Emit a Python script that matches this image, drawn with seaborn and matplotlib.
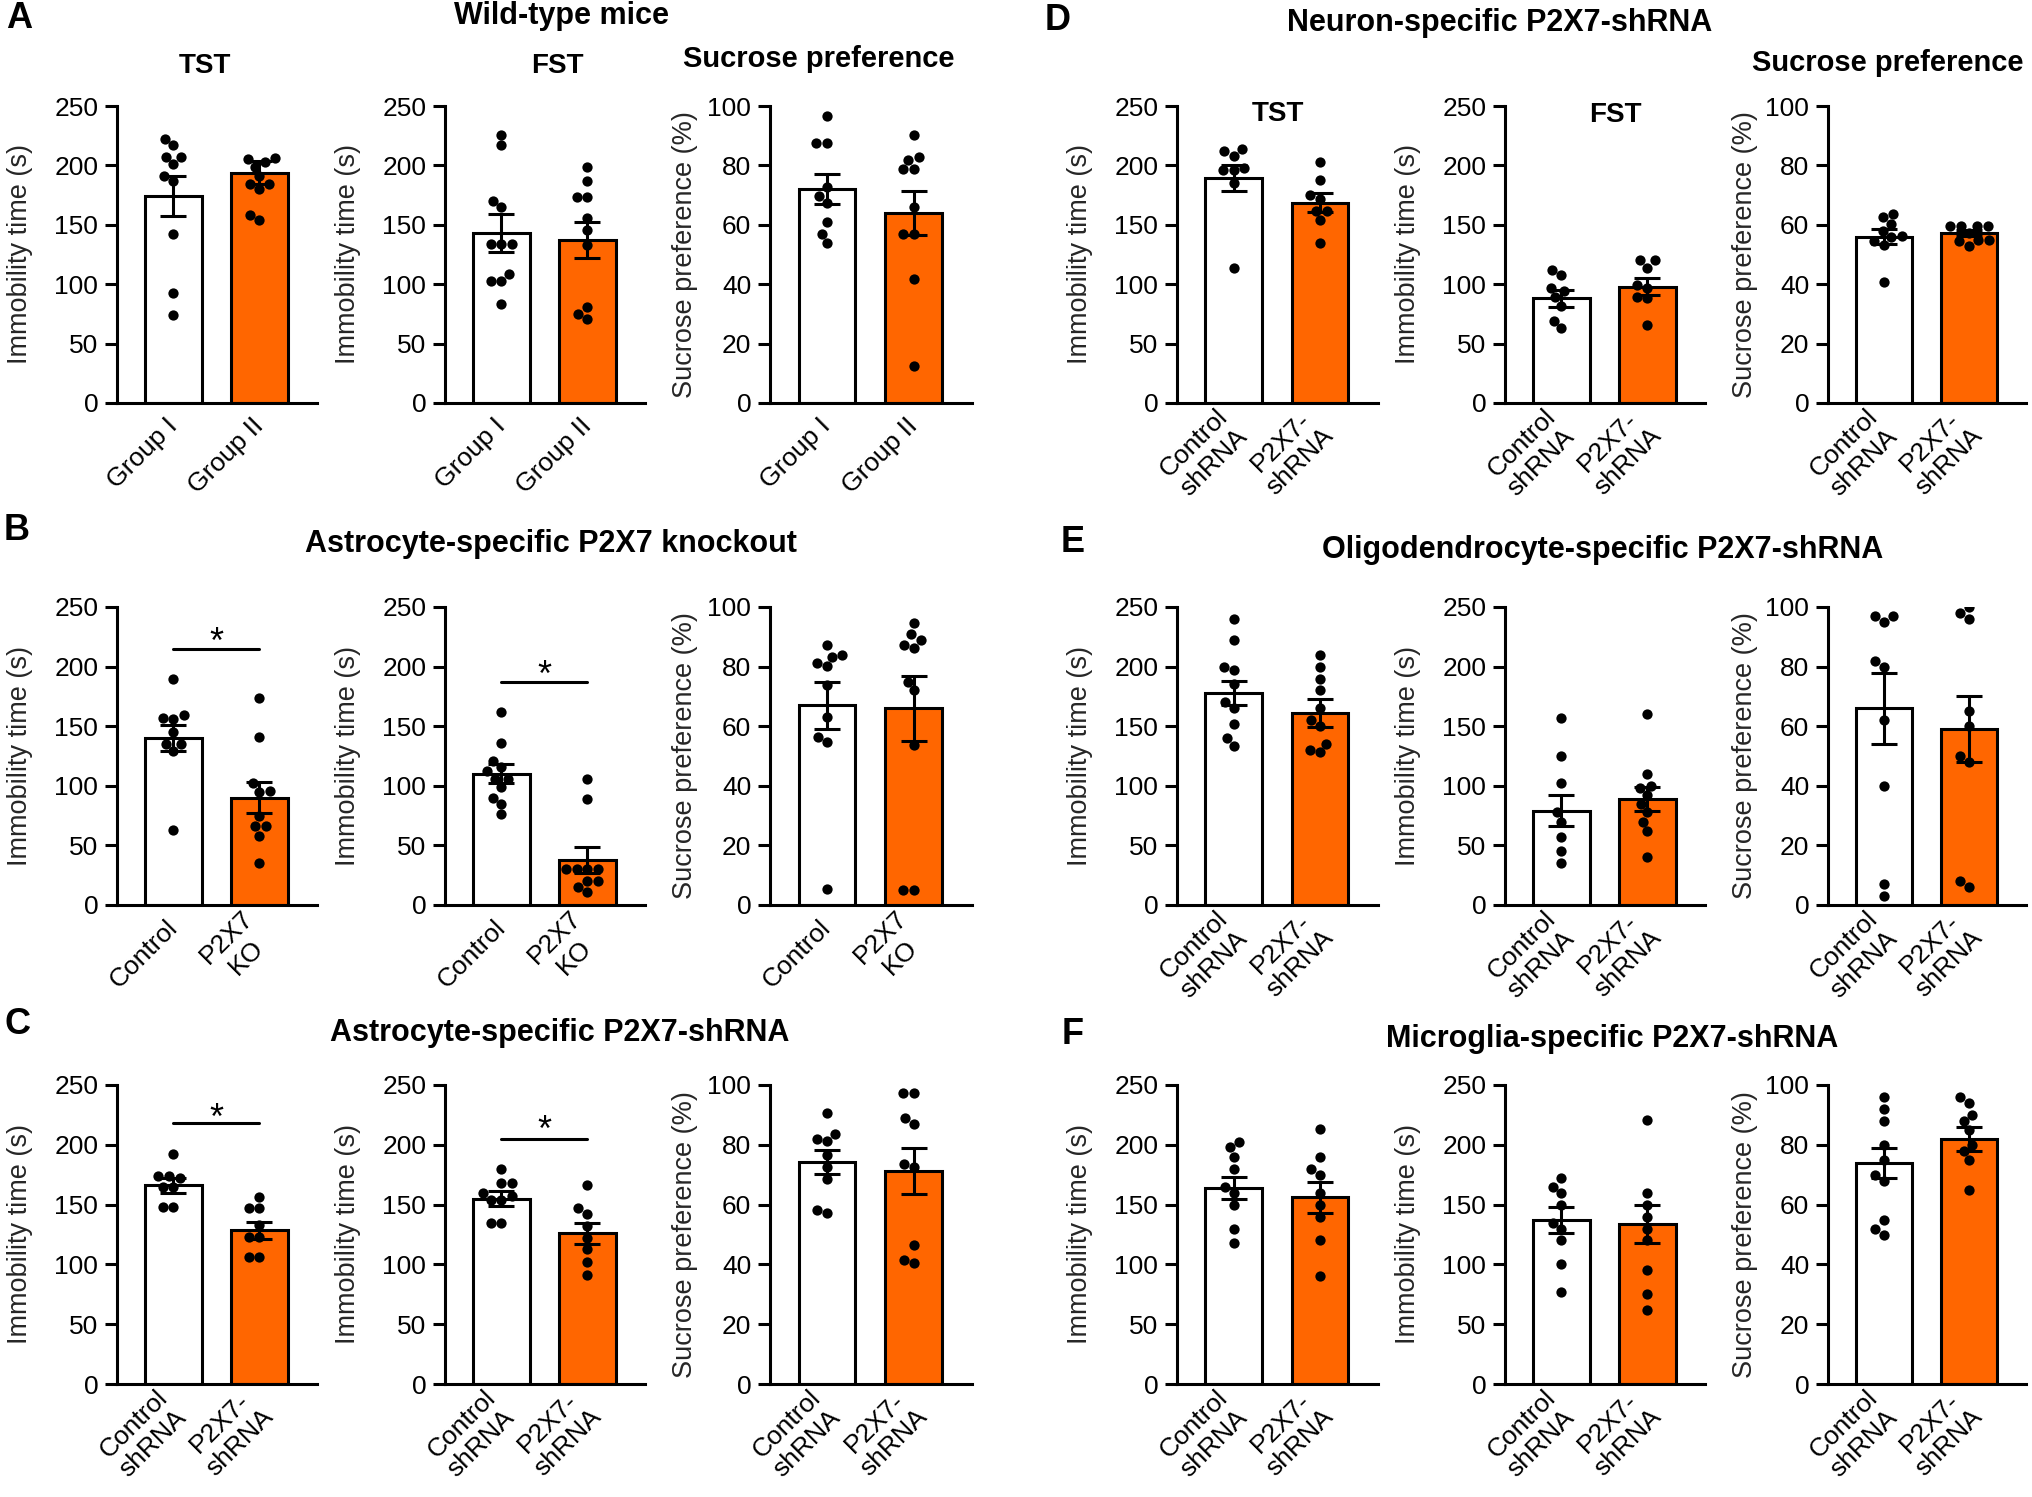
import warnings
import numpy as np
import pandas as pd
import matplotlib
matplotlib.use("Agg")
import matplotlib.pyplot as plt
import seaborn as sns

warnings.filterwarnings("ignore")

# ---------------- data ----------------
GROUP_LABELS = ["Group I", "Group II"]
KO_LABELS = ["Control", "P2X7\nKO"]
SH_LABELS = ["Control\nshRNA", "P2X7-\nshRNA"]

# A: wild-type mice
A_TST_mean = [174, 194]
A_TST_sem = [17, 10]
A_TST_g1 = [222, 217, 207, 207, 201, 191, 187, 142, 93, 74]
A_TST_g2 = [203, 205, 206, 199, 191, 184, 184, 180, 158, 154]

A_FST_mean = [143, 137]
A_FST_sem = [16, 15]
A_FST_g1 = [226, 217, 170, 165, 134, 134, 134, 109, 103, 103, 83]
A_FST_g2 = [199, 187, 173, 173, 156, 146, 133, 81, 75, 71]

A_SP_mean = [72, 64]
A_SP_sem = [5, 7.5]
A_SP_g1 = [96.6, 87.4, 87.4, 72.8, 69.6, 67.4, 60.9, 57, 53.9]
A_SP_g2 = [90.2, 81.8, 82.9, 78.8, 78.8, 66.1, 56.8, 56.8, 41.7, 12.3]

# B: astrocyte-specific P2X7 knockout
B_TST_mean = [140, 90]
B_TST_sem = [11, 13]
B_TST_g1 = [190, 157, 159, 156, 145, 135, 135, 129, 63]
B_TST_g2 = [174, 141, 102, 96, 95, 75, 66, 66, 58, 35]

B_FST_mean = [110, 38]
B_FST_sem = [8, 11]
B_FST_g1 = [162, 136, 121, 116, 112, 106, 106, 99, 90, 85, 76]
B_FST_g2 = [106, 89, 30, 30, 30, 30, 20, 20, 15, 11]

B_SP_mean = [67, 66]
B_SP_sem = [8, 11]
B_SP_g1 = [87.4, 84, 83.2, 81.2, 80.1, 73.7, 63.1, 56.4, 54.7, 5.3]
B_SP_g2 = [94.6, 90.8, 89, 87.4, 86.3, 74.9, 72.1, 53.6, 5, 5]

# C: astrocyte-specific P2X7-shRNA
C_TST_mean = [166, 128.5]
C_TST_sem = [6, 7]
C_TST_g1 = [192, 174, 174, 172, 165, 165, 148, 148]
C_TST_g2 = [156, 147, 147, 133, 123, 123, 106, 106]

C_FST_mean = [155, 126]
C_FST_sem = [6, 9]
C_FST_g1 = [180, 168, 168, 160, 157, 154, 154, 135, 135]
C_FST_g2 = [166, 147, 142.5, 132, 122, 113, 102, 91]

C_SP_mean = [74.3, 71.3]
C_SP_sem = [4, 7.7]
C_SP_g1 = [90.8, 83.5, 82.1, 81.2, 76.5, 72.6, 68.7, 58.1, 57.2]
C_SP_g2 = [97.4, 97.4, 88.8, 86.8, 73.7, 72.6, 46.6, 41.6, 40.4]

# D: neuron-specific P2X7-shRNA
D_TST_mean = [189.5, 168.4]
D_TST_sem = [11, 8]
D_TST_g1 = [214, 212, 208, 196, 196, 198, 185, 114]
D_TST_g2 = [203, 188, 175, 172, 162, 162, 154, 135]

D_FST_mean = [88.2, 98]
D_FST_sem = [7, 7]
D_FST_g1 = [112, 108, 97, 94, 89, 82, 69, 63]
D_FST_g2 = [120, 120, 114, 99, 97, 88, 89, 66]

D_SP_mean = [56, 57.1]
D_SP_sem = [2.6, 1]
D_SP_g1 = [63.8, 62.5, 60.2, 58, 56.3, 55.8, 54.6, 53.3, 40.6]
D_SP_g2 = [59.7, 59.7, 59.7, 59.7, 57.4, 55, 54.6, 54.9, 53]

# E: oligodendrocyte-specific P2X7-shRNA
E_TST_mean = [178, 161]
E_TST_sem = [10, 12]
E_TST_g1 = [240, 222, 200, 197, 185, 170, 165, 152, 140, 133]
E_TST_g2 = [210, 200, 190, 180, 165, 155, 150, 135, 130, 128]

E_FST_mean = [79, 89]
E_FST_sem = [13, 10]
E_FST_g1 = [157, 125, 102, 78, 70, 57, 45, 35]
E_FST_g2 = [160, 110, 100, 98, 92, 85, 78, 70, 62, 40]

E_SP_mean = [66, 59]
E_SP_sem = [12, 11]
E_SP_g1 = [97, 97, 95, 82, 80, 62, 40, 7, 3]
E_SP_g2 = [100, 98, 96, 65, 60, 50, 48, 8, 6]

# F: microglia-specific P2X7-shRNA
F_TST_mean = [164, 156]
F_TST_sem = [9, 13]
F_TST_g1 = [202, 198, 190, 180, 165, 160, 150, 130, 118]
F_TST_g2 = [213, 190, 180, 175, 160, 150, 140, 120, 90]

F_FST_mean = [137, 134]
F_FST_sem = [11, 16]
F_FST_g1 = [172, 165, 160, 150, 135, 130, 120, 100, 77]
F_FST_g2 = [221, 160, 150, 140, 130, 120, 95, 75, 62]

F_SP_mean = [74, 82]
F_SP_sem = [5, 4]
F_SP_g1 = [96, 92, 88, 80, 75, 70, 68, 55, 52, 50]
F_SP_g2 = [96, 94, 90, 88, 85, 80, 78, 75, 65]

# significance (line y, star centre y) per panel
B_TST_sig = (215, 229)
B_FST_sig = (187, 201)
C_TST_sig = (218, 231)
C_FST_sig = (205, 221)

IMM = "Immobility time (s)"
SUC = "Sucrose preference (%)"

# ---------------- style ----------------
sns.set_theme(style="ticks")
plt.rcParams['font.family'] = ['Liberation Sans', 'DejaVu Sans']
plt.rcParams['axes.linewidth'] = 2.0

W, H = 2032, 1497
fig = plt.figure(figsize=(W / 100, H / 100), dpi=100)

WHITE = "#FFFFFF"
ORANGE = "#FF6600"

LEFT_COLS = [(117, 317), (445, 645), (770, 972)]
RIGHT_COLS = [(1177, 1378), (1505, 1705), (1828, 2026)]
ROWS = [(106, 403), (607, 905), (1085, 1384)]

TICK_FS = 19
LABEL_FS = 19.5


def make_ax(xr, yr):
    l, r = xr
    t, b = yr
    return fig.add_axes([l / W, 1 - b / H, (r - l) / W, (b - t) / H])


def draw_panel(ax, labels, means, sems, g1, g2, ymax, step, ylabel, label_x, sig=None):
    bars = pd.DataFrame({"group": labels, "value": means})
    sns.barplot(data=bars, x="group", y="value", hue="group", order=labels,
                hue_order=labels, palette=[WHITE, ORANGE], edgecolor="black",
                linewidth=2.2, width=0.655, errorbar=None, legend=False,
                saturation=1, ax=ax, zorder=2)
    pts = pd.DataFrame({"group": [labels[0]] * len(g1) + [labels[1]] * len(g2),
                        "value": list(g1) + list(g2)})
    sns.swarmplot(data=pts, x="group", y="value", order=labels, color="black",
                  size=7.4, ax=ax, zorder=3)
    ax.errorbar(x=[0, 1], y=means, yerr=sems, fmt="none", ecolor="black",
                elinewidth=2.2, capsize=9.5, capthick=2.2, zorder=4)
    ax.set_xlim(-0.657, 1.67)
    ax.set_ylim(0, ymax)
    ax.set_yticks(np.arange(0, ymax + 0.1, step))
    ax.set_yticklabels([f"{int(v)}" for v in np.arange(0, ymax + 0.1, step)])
    ax.set_ylabel(ylabel, fontsize=LABEL_FS)
    ax.yaxis.set_label_coords(label_x, 0.5)
    ax.set_xlabel("")
    ax.set_xticks([0, 1])
    ax.set_xticklabels(labels, rotation=45, ha="right", va="center",
                       rotation_mode="anchor", multialignment="center")
    for s in ["top", "right"]:
        ax.spines[s].set_visible(False)
    for s in ["left", "bottom"]:
        ax.spines[s].set_linewidth(2.2)
        ax.spines[s].set_color("black")
    ax.tick_params(axis="y", direction="out", length=8.5, width=2.2,
                   labelsize=TICK_FS, pad=5, colors="black")
    ax.tick_params(axis="x", length=0, labelsize=TICK_FS, pad=14, colors="black")
    ax.set_facecolor("white")
    if sig is not None:
        line_y, star_y = sig
        ax.plot([0, 1], [line_y, line_y], color="black", lw=2.2, zorder=5)
        ax_h_px = ax.get_position().height * H
        px_per_unit = ax_h_px / ymax
        em_px = 26 * 100 / 72
        base = star_y - 0.58 * em_px / px_per_unit
        ax.text(0.5, base, "*", ha="center", va="baseline", fontsize=26,
                color="black", zorder=5)


panels = [
    # (column set, col idx, row idx, labels, means, sems, g1, g2, ymax, step, ylabel, sig)
    (LEFT_COLS, 0, 0, GROUP_LABELS, A_TST_mean, A_TST_sem, A_TST_g1, A_TST_g2, 250, 50, IMM, None),
    (LEFT_COLS, 1, 0, GROUP_LABELS, A_FST_mean, A_FST_sem, A_FST_g1, A_FST_g2, 250, 50, IMM, None),
    (LEFT_COLS, 2, 0, GROUP_LABELS, A_SP_mean, A_SP_sem, A_SP_g1, A_SP_g2, 100, 20, SUC, None),
    (LEFT_COLS, 0, 1, KO_LABELS, B_TST_mean, B_TST_sem, B_TST_g1, B_TST_g2, 250, 50, IMM, B_TST_sig),
    (LEFT_COLS, 1, 1, KO_LABELS, B_FST_mean, B_FST_sem, B_FST_g1, B_FST_g2, 250, 50, IMM, B_FST_sig),
    (LEFT_COLS, 2, 1, KO_LABELS, B_SP_mean, B_SP_sem, B_SP_g1, B_SP_g2, 100, 20, SUC, None),
    (LEFT_COLS, 0, 2, SH_LABELS, C_TST_mean, C_TST_sem, C_TST_g1, C_TST_g2, 250, 50, IMM, C_TST_sig),
    (LEFT_COLS, 1, 2, SH_LABELS, C_FST_mean, C_FST_sem, C_FST_g1, C_FST_g2, 250, 50, IMM, C_FST_sig),
    (LEFT_COLS, 2, 2, SH_LABELS, C_SP_mean, C_SP_sem, C_SP_g1, C_SP_g2, 100, 20, SUC, None),
    (RIGHT_COLS, 0, 0, SH_LABELS, D_TST_mean, D_TST_sem, D_TST_g1, D_TST_g2, 250, 50, IMM, None),
    (RIGHT_COLS, 1, 0, SH_LABELS, D_FST_mean, D_FST_sem, D_FST_g1, D_FST_g2, 250, 50, IMM, None),
    (RIGHT_COLS, 2, 0, SH_LABELS, D_SP_mean, D_SP_sem, D_SP_g1, D_SP_g2, 100, 20, SUC, None),
    (RIGHT_COLS, 0, 1, SH_LABELS, E_TST_mean, E_TST_sem, E_TST_g1, E_TST_g2, 250, 50, IMM, None),
    (RIGHT_COLS, 1, 1, SH_LABELS, E_FST_mean, E_FST_sem, E_FST_g1, E_FST_g2, 250, 50, IMM, None),
    (RIGHT_COLS, 2, 1, SH_LABELS, E_SP_mean, E_SP_sem, E_SP_g1, E_SP_g2, 100, 20, SUC, None),
    (RIGHT_COLS, 0, 2, SH_LABELS, F_TST_mean, F_TST_sem, F_TST_g1, F_TST_g2, 250, 50, IMM, None),
    (RIGHT_COLS, 1, 2, SH_LABELS, F_FST_mean, F_FST_sem, F_FST_g1, F_FST_g2, 250, 50, IMM, None),
    (RIGHT_COLS, 2, 2, SH_LABELS, F_SP_mean, F_SP_sem, F_SP_g1, F_SP_g2, 100, 20, SUC, None),
]

for cols, ci, ri, labels, means, sems, g1, g2, ymax, step, ylabel, sig in panels:
    ax = make_ax(cols[ci], ROWS[ri])
    lx = -0.42 if ylabel == IMM else -0.355
    draw_panel(ax, labels, means, sems, g1, g2, ymax, step, ylabel, lx, sig)


def ftext(x, y, s, size, weight="bold"):
    fig.text(x / W, 1 - y / H, s, ha="center", va="center", fontsize=size,
             fontweight=weight, color="black")


# panel letters
for letter, (x, y) in {"A": (19, 19), "B": (17, 531), "C": (17, 1024),
                       "D": (1058, 20), "E": (1073, 542), "F": (1073, 1034)}.items():
    ftext(x, y, letter, 26)

# row / group titles
ftext(562, 16, "Wild-type mice", 22)
ftext(551, 544, "Astrocyte-specific P2X7 knockout", 22)
ftext(560, 1033, "Astrocyte-specific P2X7-shRNA", 22)
ftext(1500, 23, "Neuron-specific P2X7-shRNA", 22)
ftext(1603, 550, "Oligodendrocyte-specific P2X7-shRNA", 22)
ftext(1612, 1039, "Microglia-specific P2X7-shRNA", 22)

# test titles
ftext(205, 66, "TST", 20)
ftext(557, 66, "FST", 20)
ftext(819, 59, "Sucrose preference", 21)
ftext(1278, 114, "TST", 20)
ftext(1615, 115, "FST", 20)
ftext(1888, 63, "Sucrose preference", 21)

fig.savefig("out.png", dpi=100, facecolor="white")
